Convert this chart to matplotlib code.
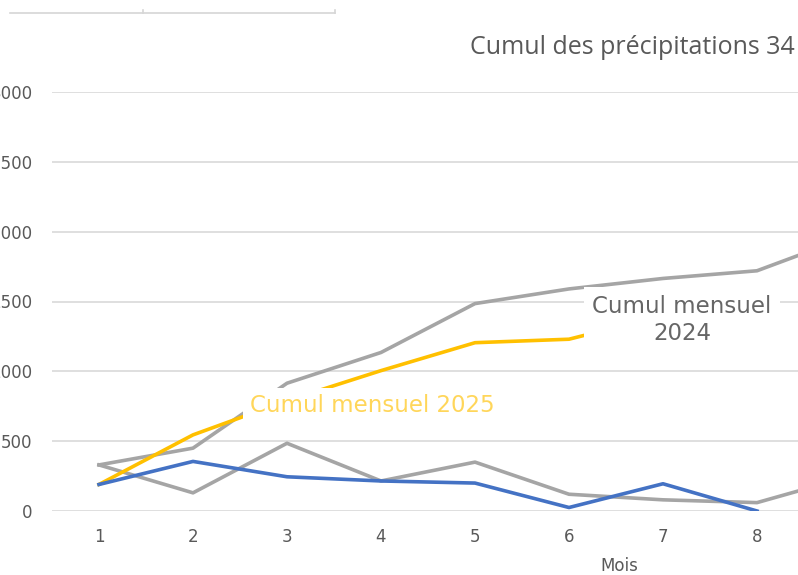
import matplotlib
matplotlib.use("Agg")
import matplotlib.pyplot as plt
from matplotlib.lines import Line2D

# Données
mois = [1, 2, 3, 4, 5, 6, 7, 8, 9]
mensuel_2024 = [330, 130, 485, 215, 350, 120, 80, 60, 250]
cumul_2024 = [330, 450, 915, 1135, 1485, 1590, 1665, 1720, 1970]
mois_2025 = [1, 2, 3, 4, 5, 6, 7, 8]
mensuel_2025 = [190, 355, 245, 215, 200, 25, 195, 0]
cumul_2025 = [190, 545, 790, 1005, 1205, 1230, 1400, 1400]
y_ticks = [0, 500, 1000, 1500, 2000, 2500, 3000]

W, H = 798, 575
fig = plt.figure(figsize=(W / 100, H / 100), dpi=100)

def px(x, y):
    """pixels -> coordonnées figure"""
    return x / W, 1 - y / H

# axes plus large que la figure : le graphique est recadré à droite
left, bottom = px(52, 511)
ax = fig.add_axes([left, bottom, 12 * 94 / W, (511 - 92) / H])

gris = "#A5A5A5"
ax.plot(mois, mensuel_2024, color=gris, lw=2.6, solid_joinstyle="round", zorder=3)
ax.plot(mois, cumul_2024, color=gris, lw=2.6, solid_joinstyle="round", zorder=3)
ax.plot(mois_2025, cumul_2025, color="#FFC000", lw=2.6, solid_joinstyle="round", zorder=4)
ax.plot(mois_2025, mensuel_2025, color="#4472C4", lw=2.6, solid_joinstyle="round", zorder=4)

ax.set_xlim(0.5, 12.5)
ax.set_ylim(0, 3000)
ax.set_yticks(y_ticks)
ax.set_xticks(mois_2025)  # seuls les mois visibles dans le recadrage
ax.grid(axis="y", color="#D9D9D9", lw=1.2)
ax.set_axisbelow(True)
for s in ax.spines.values():
    s.set_visible(False)
narrow = ["Liberation Sans Narrow", "DejaVu Sans"]
ax.tick_params(length=0, labelsize=12, labelcolor="#595959")
ax.tick_params(axis="y", pad=14)
ax.tick_params(axis="x", pad=12)
for lab in ax.get_xticklabels() + ax.get_yticklabels():
    lab.set_family(narrow)

txt = "#595959"
fig.text(*px(470, 48), "Cumul des précipitations 34", ha="left", va="center",
         fontsize=18, color=txt, family="Open Sans")
fig.text(*px(619, 566), "Mois", ha="center", va="center", fontsize=12,
         color=txt, family=narrow)

# étiquettes des séries
fig.text(*px(372, 406), "Cumul mensuel 2025", ha="center", va="center",
         fontsize=16.5, color="#FFD65A", family="DejaVu Sans",
         bbox=dict(boxstyle="square,pad=0.3", fc="white", ec="none"), zorder=10)
fig.text(*px(682, 320), "Cumul mensuel\n2024", ha="center", va="center",
         fontsize=16.5, color="#666666", family="DejaVu Sans", linespacing=1.25,
         bbox=dict(boxstyle="square,pad=0.35", fc="white", ec="none"), zorder=10)

# reste d'un autre graphique en haut à gauche
fig.add_artist(Line2D([10 / W, 335 / W], [1 - 13 / H, 1 - 13 / H],
                      color="#D6D6D6", lw=1.2))
for xt in (143, 335):
    fig.add_artist(Line2D([xt / W, xt / W], [1 - 13 / H, 1 - 10 / H],
                          color="#D6D6D6", lw=1.2))

fig.savefig("out.png", dpi=100)
